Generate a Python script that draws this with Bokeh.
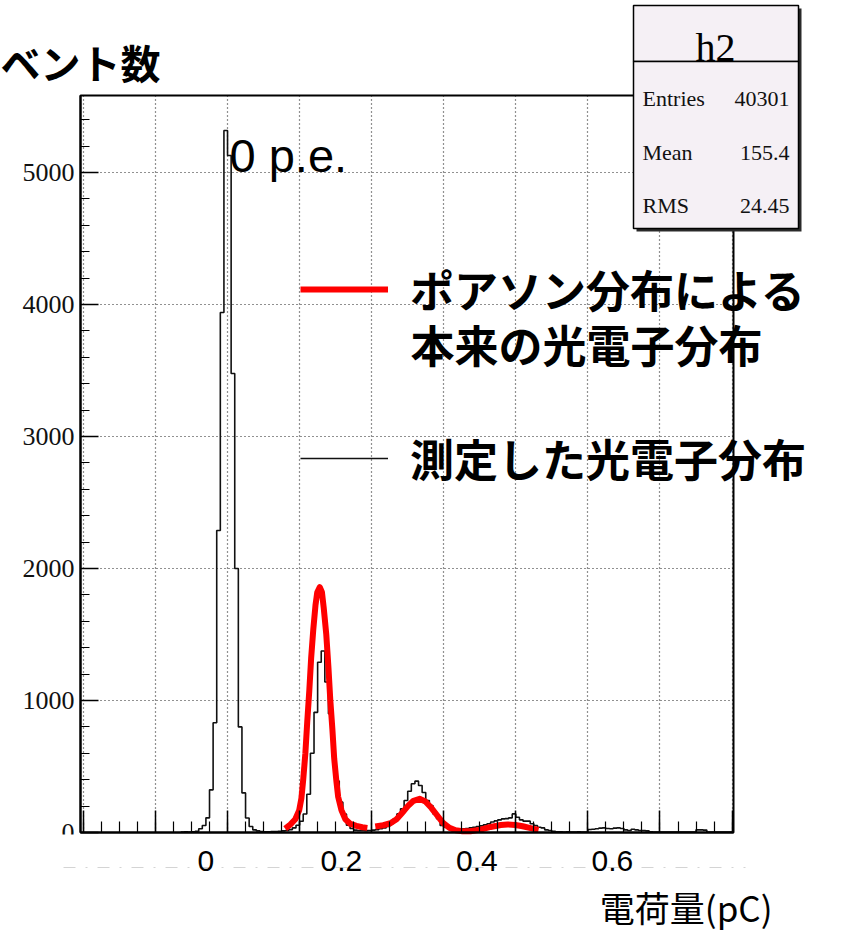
import numpy as np
from bokeh.plotting import figure
from bokeh.models import (Range1d, LinearAxis, SingleIntervalTicker, FixedTicker, Grid,
                          Legend, LegendItem, Label, BoxAnnotation, NumeralTickFormatter)
from bokeh.core.properties import value
from bokeh.embed import file_html
from bokeh.resources import INLINE

# ---------------- data ----------------
first_channel = 127  # left edge of the first filled bin (ADC channel)
counts = [
    4, 5, 4, 6, 9,                                   # 127-131
    28, 53, 111, 323, 831, 2288, 3939, 5318, 5129, 3477,   # 132-141
    2000, 800, 300, 110, 45, 20, 12, 8, 6, 6,         # 142-151
    7, 8, 10, 12, 15, 22, 35, 55, 85, 140,            # 152-161
    290, 600, 910, 1290, 1375, 1140, 900, 580, 390, 230,   # 162-171
    140, 55, 30, 18, 15, 15, 14, 15, 18, 22,          # 172-181
    28, 35, 45, 66, 104, 141, 180, 242, 313, 369,     # 182-191
    389, 356, 303, 242, 204, 141, 104, 53, 40, 28,    # 192-201
    25, 22, 25, 28, 30, 35, 40, 45, 50, 58,           # 202-211
    66, 80, 88, 96, 103, 105, 111, 141, 116, 96,      # 212-221
    86, 86, 66, 53, 40, 35, 20, 15, 10, 6,            # 222-231
    5, 4, 5, 3, 4, 5, 3, 4, 23, 25,                   # 232-241
    28, 33, 35, 30, 28, 33, 35, 30, 20, 15,           # 242-251
    25, 20, 15, 15, 12, 5, 4, 3, 4, 3,                # 252-261
    4, 3, 3, 4, 3, 3, 4, 3, 20, 20,                   # 262-271
    18, 4, 3, 3, 4, 3, 3, 3,                          # 272-279
]

# Poisson-based "true" photoelectron distribution (red curve)
red_1pe_ch = [156.0, 157.4, 158.8, 159.9, 160.5, 161.0, 161.6, 162.1, 162.7, 163.2,
              163.8, 164.4, 164.9, 165.6, 166.2, 166.7, 167.4, 168.0, 168.5, 169.1,
              169.6, 170.2, 170.7, 171.6, 172.7, 174.1, 175.8, 177.4, 178.8]
red_1pe_val = [30, 60, 100, 170, 260, 400, 600, 830, 1080, 1320,
               1540, 1720, 1820, 1859, 1820, 1700, 1500, 1250, 1010, 780,
               560, 390, 270, 170, 100, 65, 50, 40, 35]
red_multi_ch = [181.0, 183.2, 185.2, 186.9, 188.5, 190.2, 191.6, 193.3, 194.9, 196.6,
                198.3, 199.9, 201.6, 203.3, 205.2, 207.4, 210.2, 213.0, 215.8, 217.7,
                219.9, 221.9, 224.1, 226.3]
red_multi_val = [45, 55, 70, 100, 150, 205, 240, 255, 235, 185,
                 125, 70, 35, 17, 10, 10, 22, 42, 57, 61,
                 57, 47, 33, 20]

pc_ticks = [0, 0.2, 0.4, 0.6]
hist_name = "h2"
stats_names = ["Entries", "Mean", "RMS"]
stats_values = ["40301", "155.4", "24.45"]
legend_red_1 = "ポアソン分布による"
legend_red_2 = "本来の光電子分布"
legend_black = "測定した光電子分布"
y_title = "ベント数"
x_title = "電荷量(pC)"
peak_note = "0 p.e."

# axis calibration
PED_CH = 134.0       # ADC channel of 0 pC
CH_PER_PC = 188.0    # ADC channels per pC
X_START, X_END = 99.2, 280.4   # histogram frame range (channels)
Y_END = 5583                   # histogram frame top (entries)

# ---------------- page geometry (pixels) ----------------
W, H = 842, 934
FL, FR, FT, FB = 80, 733, 95, 832          # where the histogram frame sits on the page
xs = (FR - FL) / (X_END - X_START)          # px per channel
ys = (FB - FT) / Y_END                      # px per entry
cx0, cx1 = X_START - FL / xs, X_END + (W - FR) / xs
cy0, cy1 = -(H - FB) / ys, Y_END + FT / ys


def sx(X):
    return X


def sy(Y):
    return H - Y


p = figure(width=W, height=H, x_range=Range1d(cx0, cx1), y_range=Range1d(cy0, cy1),
           x_axis_type=None, y_axis_type=None,
           output_backend="svg", toolbar_location=None,
           min_border_left=0, min_border_right=0, min_border_top=0, min_border_bottom=0)
p.background_fill_color = "white"
p.border_fill_color = "white"
p.outline_line_color = None

xt = SingleIntervalTicker(interval=20, num_minor_ticks=4)
yt = SingleIntervalTicker(interval=1000, num_minor_ticks=5)

# grids restricted to the histogram frame
grid_kw = dict(grid_line_color="#222222", grid_line_width=1.2, grid_line_dash="1 3")
has_cross = "cross_bounds" in Grid.properties()
g0 = Grid(dimension=0, ticker=xt, bounds=(X_START, X_END), **grid_kw)
g1 = Grid(dimension=1, ticker=yt, bounds=(0, Y_END), **grid_kw)
if has_cross:
    g0.cross_bounds = (0, Y_END)
    g1.cross_bounds = (X_START, X_END)
p.add_layout(g0)
p.add_layout(g1)

yaxis = LinearAxis(ticker=yt, fixed_location=X_START, bounds=(0, Y_END),
                   axis_line_width=2, axis_line_color="black",
                   major_tick_in=18, major_tick_out=0, minor_tick_in=9, minor_tick_out=0,
                   major_tick_line_width=1.5, minor_tick_line_width=1.2,
                   major_label_text_font="Liberation Serif", major_label_text_font_size="26px",
                   major_label_text_color="#111111", major_label_standoff=6)
p.add_layout(yaxis, "left")

xaxis = LinearAxis(ticker=xt, fixed_location=0, bounds=(X_START, X_END),
                   axis_line_width=2, axis_line_color="black",
                   major_tick_in=22, major_tick_out=0, minor_tick_in=11, minor_tick_out=0,
                   major_tick_line_width=1.5, minor_tick_line_width=1.2,
                   major_label_text_color=None, major_label_text_font_size="1px")
p.add_layout(xaxis, "below")

p.extra_x_ranges = {"pc": Range1d((cx0 - PED_CH) / CH_PER_PC, (cx1 - PED_CH) / CH_PER_PC)}
pc_line_y = -(867 - FB) / ys
pcaxis = LinearAxis(x_range_name="pc", ticker=FixedTicker(ticks=pc_ticks, minor_ticks=[]),
                    fixed_location=pc_line_y,
                    bounds=((cx0 + 63 / xs - PED_CH) / CH_PER_PC, (cx0 + 745 / xs - PED_CH) / CH_PER_PC),
                    formatter=NumeralTickFormatter(format="0.[0]"),
                    axis_line_color="#d4d4d4", axis_line_width=1, axis_line_dash="12 10 2 10",
                    major_tick_in=0, major_tick_out=0, minor_tick_in=0, minor_tick_out=0,
                    major_label_text_font="Liberation Sans", major_label_text_font_size="30px",
                    major_label_text_color="black", major_label_standoff=-17)
p.add_layout(pcaxis, "below")

# ---------------- histogram + curves ----------------
edges = first_channel + np.arange(len(counts) + 1)
step_y = list(counts) + [counts[-1]]
hist_r = p.step(edges, step_y, mode="after", line_color="#111111", line_width=1.6)

red1 = p.line(red_1pe_ch, red_1pe_val, line_color="#ff0000", line_width=6, line_join="round")
red2 = p.line(red_multi_ch, red_multi_val, line_color="#ff0000", line_width=6, line_join="round")

# histogram frame box
p.add_layout(BoxAnnotation(left=X_START, right=X_END, bottom=0, top=Y_END,
                           fill_alpha=0, line_color="black", line_alpha=1, line_width=2))

# white mask over the lower half of the "0" tick label (as in the original slide)
box_kw = dict(left_units="screen", right_units="screen", top_units="screen", bottom_units="screen")
p.add_layout(BoxAnnotation(left=sx(0), right=sx(FL - 1), top=sy(FB + 2), bottom=sy(FB + 30),
                           fill_color="white", fill_alpha=1, line_color=None, **box_kw))

# ---------------- legends ----------------
common = dict(glyph_width=88, glyph_height=72, label_height=72, label_standoff=22,
              padding=0, margin=0, border_line_color=None, background_fill_alpha=0,
              label_text_font="Noto Sans CJK JP", label_text_font_style="bold",
              label_text_font_size="44px", label_text_color="black")
leg1 = Legend(items=[LegendItem(label=value(legend_red_1), renderers=[red1])],
              location=(sx(300), sy(289 + 36)), **common)
leg2 = Legend(items=[LegendItem(label=value(legend_black), renderers=[hist_r])],
              location=(sx(300), sy(458 + 36)), **common)
p.add_layout(leg1)
p.add_layout(leg2)
p.add_layout(Label(x=sx(410), y=sy(343), x_units="screen", y_units="screen", text=legend_red_2,
                   text_font="Noto Sans CJK JP", text_font_style="bold", text_font_size="44px",
                   text_color="black", text_baseline="middle", text_align="left"))

# ---------------- titles / notes ----------------
p.add_layout(Label(x=sx(0), y=sy(61), x_units="screen", y_units="screen", text=y_title,
                   text_font="Noto Sans CJK JP", text_font_style="bold", text_font_size="40px",
                   text_color="black", text_baseline="middle", text_align="left"))
p.add_layout(Label(x=sx(772), y=sy(906), x_units="screen", y_units="screen", text=x_title,
                   text_font="Noto Sans CJK JP", text_font_size="35px",
                   text_color="black", text_baseline="middle", text_align="right"))
p.add_layout(Label(x=sx(229), y=sy(155), x_units="screen", y_units="screen", text=peak_note,
                   text_font="Liberation Sans", text_font_size="47px",
                   text_color="black", text_baseline="alphabetic", text_align="left"))

# ---------------- stats box ----------------
BL, BR, BT, BM, BB = 633, 798, 5, 61, 228
p.add_layout(BoxAnnotation(left=sx(BL + 3), right=sx(BR + 3), top=sy(BT + 3), bottom=sy(BB + 3),
                           fill_color="#2a2a2a", fill_alpha=1, line_color=None, **box_kw))
p.add_layout(BoxAnnotation(left=sx(BL), right=sx(BR), top=sy(BT), bottom=sy(BM),
                           fill_color="#f5f0f5", fill_alpha=1, line_color="black", line_alpha=1,
                           line_width=1.5, **box_kw))
p.add_layout(BoxAnnotation(left=sx(BL), right=sx(BR), top=sy(BM), bottom=sy(BB),
                           fill_color="#f5f0f5", fill_alpha=1, line_color="black", line_alpha=1,
                           line_width=1.5, **box_kw))
p.add_layout(Label(x=sx(715), y=sy(47), x_units="screen", y_units="screen", text=hist_name,
                   text_font="Liberation Serif", text_font_size="40px", text_color="black",
                   text_align="center", text_baseline="alphabetic"))
for name, val, base in zip(stats_names, stats_values, [98, 152, 205]):
    p.add_layout(Label(x=sx(642), y=sy(base), x_units="screen", y_units="screen", text=name,
                       text_font="Liberation Serif", text_font_size="22px", text_color="#111111",
                       text_align="left", text_baseline="alphabetic"))
    p.add_layout(Label(x=sx(789), y=sy(base), x_units="screen", y_units="screen", text=val,
                       text_font="Liberation Serif", text_font_size="22px", text_color="#111111",
                       text_align="right", text_baseline="alphabetic"))

open("out.html", "w").write(file_html(p, INLINE))
